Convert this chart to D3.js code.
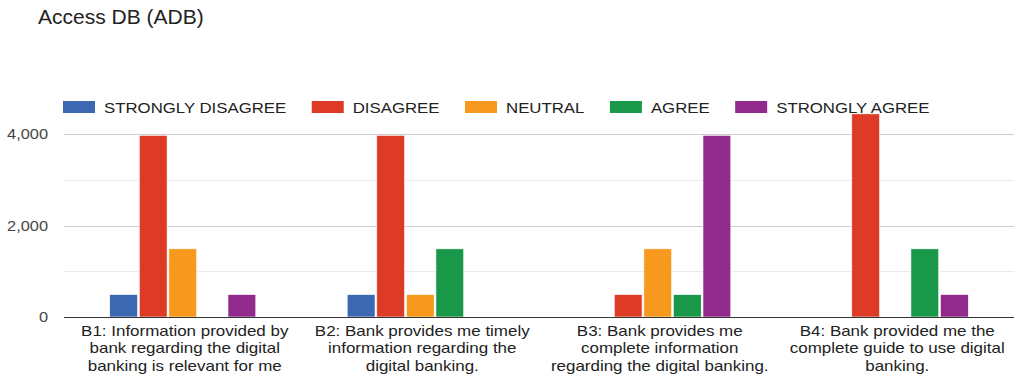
<!DOCTYPE html>
<html>
<head>
<meta charset="utf-8">
<script src="https://cdn.jsdelivr.net/npm/d3@7"></script>
<style>
  body { margin: 0; background: #fff; }
  svg { display: block; font-family: Arial, "Liberation Sans", sans-serif; }
</style>
</head>
<body>
<script>
// ---- data ----
var categories = [
  ["B1: Information provided by", "bank regarding the digital", "banking is relevant for me"],
  ["B2: Bank provides me timely", "information regarding the", "digital banking."],
  ["B3: Bank provides me", "complete information", "regarding the digital banking."],
  ["B4: Bank provided me the", "complete guide to use digital", "banking."]
]
var seriesNames  = ["STRONGLY DISAGREE", "DISAGREE", "NEUTRAL", "AGREE", "STRONGLY AGREE"]
var seriesColors = ["#3c68b1", "#dd3b26", "#f7981f", "#1a9849", "#912a8c"]
// one row per category, one value per series
var values = [
  [490, 3970, 1490, 0, 490],
  [490, 3970, 490, 1490, 0],
  [0, 490, 1490, 490, 3970],
  [0, 4440, 0, 1490, 490]
]
var yTicks = [0, 2000, 4000]
var yMinor = [1000, 3000]

;(function () {
  // ---- layout ----
  var W = 1018, H = 378
  var plotL = 64, plotR = 1014, plotT = 134, plotB = 317

  var svg = d3.select("body").append("svg")
      .attr("width", W).attr("height", H)

  var y = d3.scaleLinear().domain([0, 4000]).range([plotB, plotT])
  var x0 = d3.scaleBand().domain(d3.range(categories.length)).range([plotL, plotR])
  var x1 = d3.scaleBand().domain(d3.range(seriesNames.length))
      .range([0, x0.bandwidth() * 0.615]).paddingInner(0.06)

  // text in the reference is drawn a bit wide: scale glyphs horizontally
  var wideText = function (x, yy, size, sx, anchor, fill, str) {
    return svg.append("text")
        .attr("transform", "translate(" + x + "," + yy + ") scale(" + sx + ",1)")
        .attr("font-size", size).attr("text-anchor", anchor).attr("fill", fill)
        .text(str)
  }

  // title
  svg.append("text")
      .attr("x", 38).attr("y", 24)
      .attr("font-size", 21).attr("fill", "#222")
      .text("Access DB (ADB)")

  // gridlines
  var hline = function (cls, data, color) {
    svg.selectAll("line." + cls).data(data).enter().append("line")
        .attr("class", cls)
        .attr("x1", plotL).attr("x2", plotR)
        .attr("y1", function(d){ return Math.round(y(d)) + 0.5 })
        .attr("y2", function(d){ return Math.round(y(d)) + 0.5 })
        .attr("stroke", color)
  }
  hline("minor", yMinor, "#ebebeb")
  hline("major", yTicks.slice(1), "#cccccc")

  // y labels
  yTicks.forEach(function (d) {
    wideText(48, y(d) + 5, 14, 1.17, "end", "#444", d3.format(",")(d))
  })

  // bars
  var groups = svg.selectAll("g.grp").data(values).enter().append("g")
      .attr("class", "grp")
      .attr("transform", function(d, i){
        return "translate(" + (x0(i) + (x0.bandwidth() - x1.range()[1]) / 2) + ",0)"
      })
  groups.selectAll("rect")
    .data(function (row) {
      return row.map(function (v, j) { return {v: v, j: j} })
                .filter(function (o) { return o.v > 0 })
    })
    .enter().append("rect")
      .attr("x", function (o) { return x1(o.j) })
      .attr("width", x1.bandwidth())
      .attr("y", function (o) { return y(o.v) })
      .attr("height", function (o) { return plotB - y(o.v) })
      .attr("fill", function (o) { return seriesColors[o.j] })
      .attr("stroke", "#fff").attr("stroke-width", 0.6)

  // baseline
  svg.append("line")
      .attr("x1", plotL).attr("x2", plotR)
      .attr("y1", plotB + 0.5).attr("y2", plotB + 0.5)
      .attr("stroke", "#333")

  // x labels
  categories.forEach(function (lines, i) {
    var cx = x0(i) + x0.bandwidth() / 2 + 2
    lines.forEach(function (s, k) {
      wideText(cx, 335.5 + k * 17.8, 14.5, 1.17, "middle", "#222", s)
    })
  })

  // legend
  var lx = 63, lsx = 1.2
  seriesNames.forEach(function(name, j){
    svg.append("rect")
        .attr("x", lx).attr("y", 101).attr("width", 32).attr("height", 12)
        .attr("fill", seriesColors[j])
    var t = wideText(lx + 41, 112.5, 14, lsx, "start", "#222", name)
    lx += 41 + t.node().getComputedTextLength() * lsx + 25.5
  })
})()
</script>
</body>
</html>
